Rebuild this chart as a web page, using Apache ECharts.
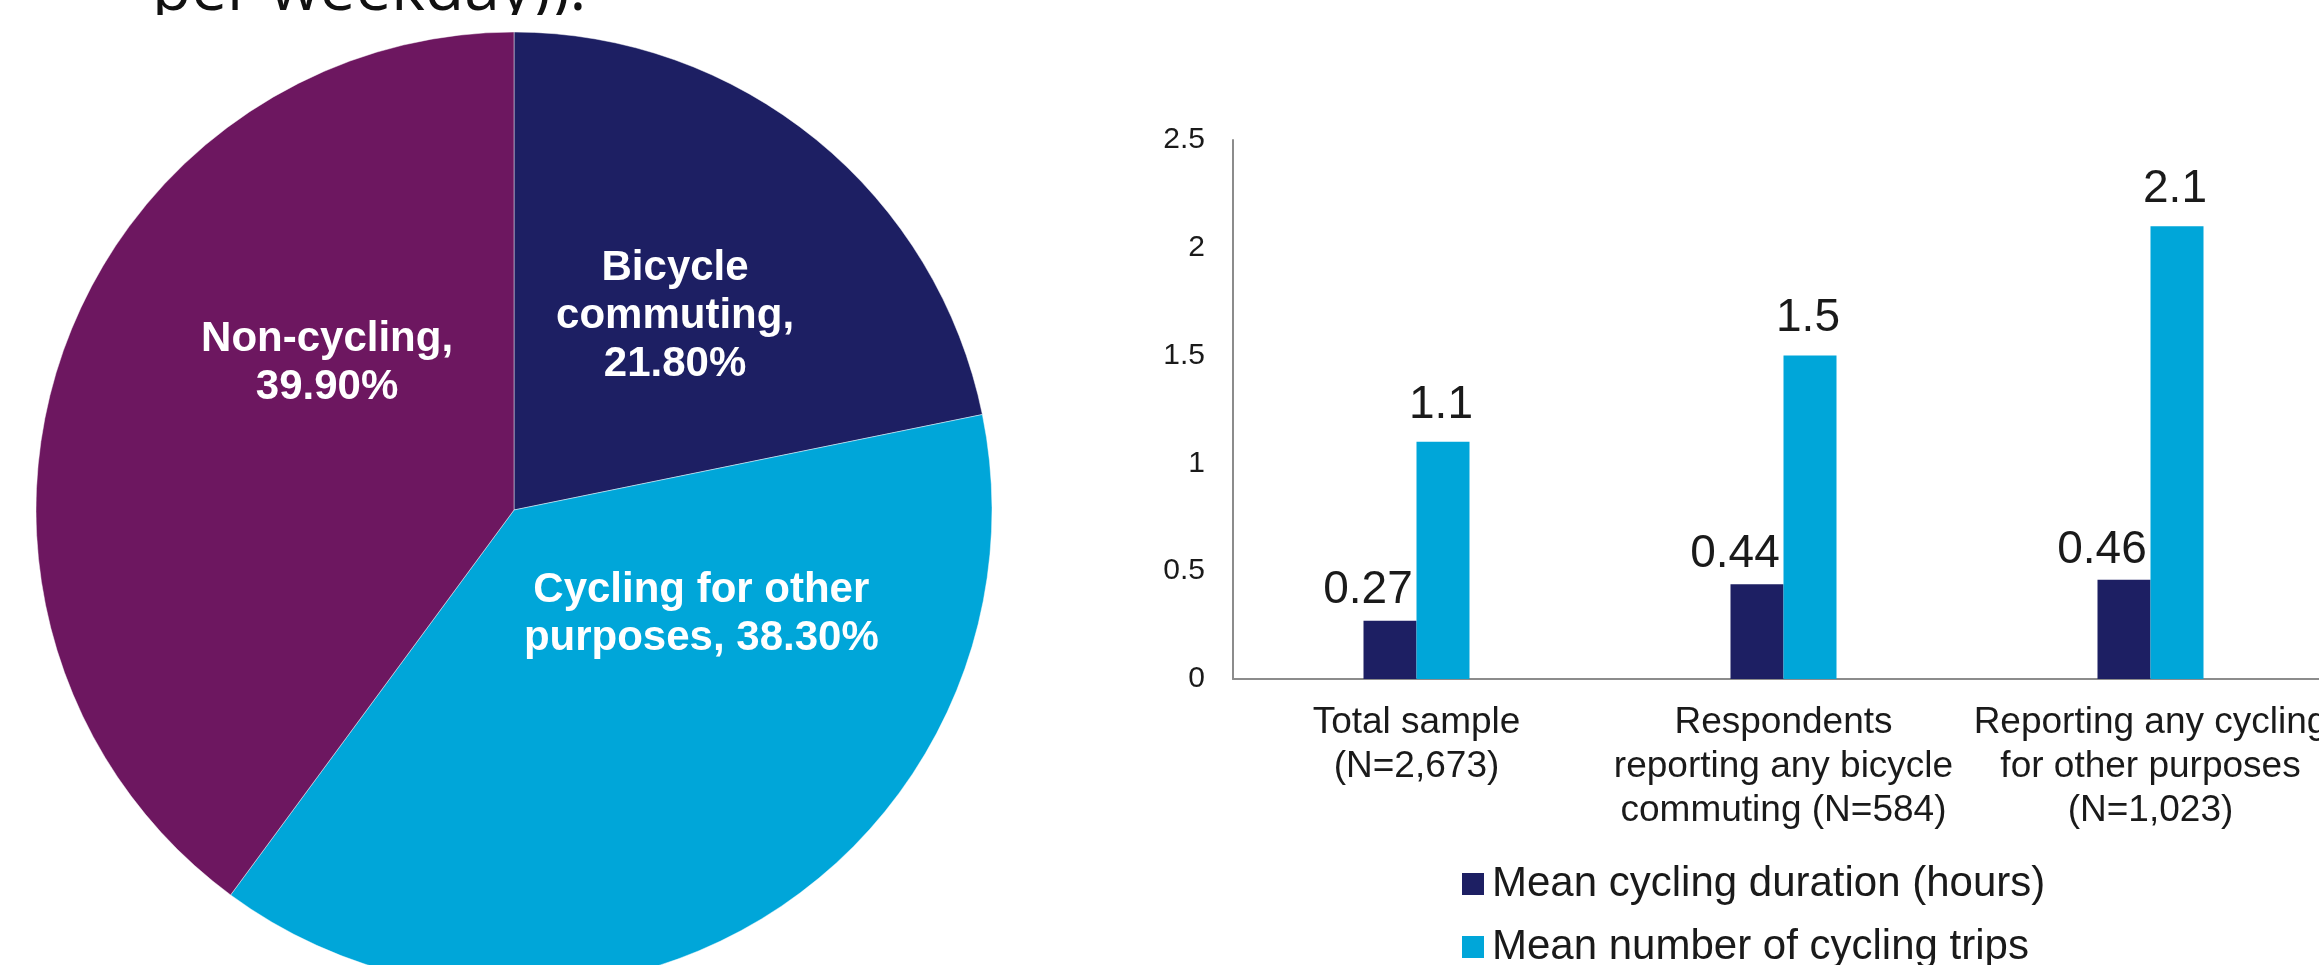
<!DOCTYPE html>
<html>
<head>
<meta charset="utf-8">
<script src="https://cdn.jsdelivr.net/npm/echarts@6/dist/echarts.min.js"></script>
<style>
html,body{margin:0;padding:0;background:#fff;}
#chart{width:2319px;height:965px;}
</style>
</head>
<body>
<div id="chart"></div>
<script>
// ---- Data ----
var pieNames = ['Bicycle commuting', 'Cycling for other purposes', 'Non-cycling'];
var pieLabelText = ['Bicycle\ncommuting,\n', 'Cycling for other\npurposes, ', 'Non-cycling,\n'];
var pieValues = [21.8, 38.3, 39.9];

var barCategories = ['Total sample\n(N=2,673)', 'Respondents\nreporting any bicycle\ncommuting (N=584)', 'Reporting any cycling\nfor other purposes\n(N=1,023)'];
var durationName = 'Mean cycling duration (hours)';
var tripsName = 'Mean number of cycling trips';
var durationValues = [0.27, 0.44, 0.46];
var tripsValues = [1.1, 1.5, 2.1];

var titleFragment = 'per weekday)).';

// ---- Styles ----
var pieColors = ['#1D1F63', '#00A6D9', '#6D1760'];
var pieLabelShift = [[8, -6], [57, -99], [43, -71]];
var darkBlue = '#1D1F63';
var lightBlue = '#00A6D9';
var txt = '#1a1a1a';
var axisGray = '#8c8c8c';
var sans = 'Liberation Sans, Arial, sans-serif';

var chart = echarts.init(document.getElementById('chart'), null, {renderer: 'canvas'});

var pieData = pieNames.map(function (n, i) {
  return { name: n, value: pieValues[i], itemStyle: { color: pieColors[i] } };
});

function legendFor(name, top) {
  return {
    data: [name],
    orient: 'vertical',
    left: 1457,
    top: top,
    itemWidth: 22,
    itemHeight: 22,
    icon: 'rect',
    selectedMode: false,
    textStyle: { fontSize: 42, lineHeight: 42, color: txt, fontFamily: sans, padding: [0, 0, 0, 3] }
  };
}

var option = {
  backgroundColor: '#fff',
  animation: false,
  graphic: [
    { type: 'text', z: 0, left: 152, top: -40, style: { text: titleFragment, font: '64px "Open Sans", sans-serif', fill: '#111', textVerticalAlign: 'top' }, silent: true },
    { type: 'rect', z: 1, shape: { x: 0, y: 15, width: 1100, height: 17 }, style: { fill: '#fff' }, silent: true }
  ],
  legend: [legendFor(durationName, 858), legendFor(tripsName, 921)],
  grid: { left: 1233, top: 140, width: 1101, bottom: 286, containLabel: false, outerBoundsMode: 'none' },
  xAxis: {
    type: 'category',
    data: barCategories,
    axisTick: { show: false },
    axisLine: { show: true, lineStyle: { color: axisGray, width: 2 } },
    axisLabel: { interval: 0, fontSize: 37, lineHeight: 44, margin: 22, color: txt, fontFamily: sans }
  },
  yAxis: {
    type: 'value',
    min: 0, max: 2.5, interval: 0.5,
    axisLine: { show: true, lineStyle: { color: axisGray, width: 2 } },
    axisTick: { show: false },
    splitLine: { show: false },
    axisLabel: { fontSize: 30, margin: 28, color: txt, fontFamily: sans }
  },
  series: [
    {
      type: 'pie',
      z: 2,
      center: [514, 510],
      radius: 478,
      startAngle: 90,
      clockwise: true,
      data: pieData,
      itemStyle: { borderColor: 'rgba(255,255,255,0.45)', borderWidth: 1 },
      label: {
        show: true,
        position: 'inner',
        formatter: function (p) { return pieLabelText[p.dataIndex] + p.value.toFixed(2) + '%'; },
        color: '#fff',
        fontSize: 42,
        fontWeight: 'bold',
        lineHeight: 48,
        align: 'center',
        fontFamily: sans
      },
      labelLayout: function (p) {
        var s = pieLabelShift[p.dataIndex];
        return { dx: s[0], dy: s[1] };
      },
      labelLine: { show: false },
      emphasis: { disabled: true }
    },
    {
      name: durationName,
      type: 'bar',
      data: durationValues,
      barWidth: 53,
      barGap: '0%',
      itemStyle: { color: darkBlue },
      label: { show: true, position: 'top', distance: 7, offset: [-22, 0], fontSize: 46, color: txt, fontFamily: sans }
    },
    {
      name: tripsName,
      type: 'bar',
      data: tripsValues,
      barWidth: 53,
      itemStyle: { color: lightBlue },
      label: { show: true, position: 'top', distance: 14, offset: [-2, 0], fontSize: 46, color: txt, fontFamily: sans }
    }
  ]
};
chart.setOption(option);
</script>
</body>
</html>
